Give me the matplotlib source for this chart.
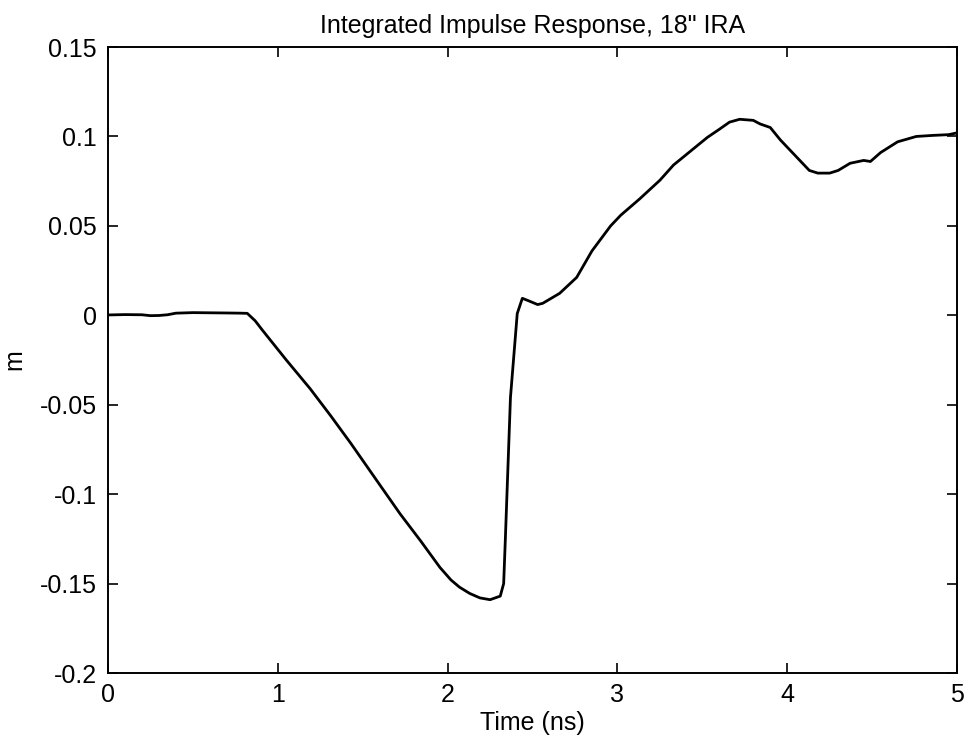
import matplotlib
matplotlib.use("Agg")
import matplotlib.pyplot as plt

# Time (ns) and integrated impulse response (m)
time_ns = [0.00, 0.10, 0.20, 0.25, 0.30, 0.35, 0.40, 0.50, 0.60, 0.70, 0.78, 0.82,
           0.866, 0.91, 1.05, 1.19, 1.31, 1.43, 1.58, 1.72, 1.84, 1.955, 2.02, 2.07,
           2.13, 2.19, 2.25, 2.31, 2.33, 2.34, 2.37, 2.41, 2.44, 2.48, 2.53, 2.56,
           2.66, 2.76, 2.85, 2.96, 3.02, 3.13, 3.25, 3.33, 3.53, 3.60, 3.66, 3.72,
           3.80, 3.84, 3.90, 3.96, 4.06, 4.13, 4.18, 4.25, 4.30, 4.37, 4.45, 4.49,
           4.55, 4.65, 4.76, 4.86, 4.95, 5.00]
response_m = [0.0002, 0.0004, 0.0003, -0.0002, -0.0001, 0.0003, 0.0012, 0.0015, 0.0014, 0.0013, 0.0012, 0.0011,
              -0.003, -0.0084, -0.025, -0.041, -0.056, -0.0716, -0.092, -0.111, -0.126, -0.141, -0.148, -0.152,
              -0.1555, -0.158, -0.159, -0.157, -0.150, -0.125, -0.046, 0.001, 0.0095, 0.0080, 0.0060, 0.0067,
              0.0123, 0.0212, 0.036, 0.050, 0.056, 0.065, 0.0755, 0.084, 0.0995, 0.104, 0.108, 0.1096,
              0.109, 0.107, 0.105, 0.098, 0.088, 0.081, 0.0795, 0.0795, 0.081, 0.085, 0.0866, 0.086,
              0.091, 0.097, 0.100, 0.1006, 0.101, 0.102]

x_ticks = [0, 1, 2, 3, 4, 5]
y_ticks = [-0.2, -0.15, -0.1, -0.05, 0, 0.05, 0.1, 0.15]
y_tick_labels = ["-0.2", "-0.15", "-0.1", "-0.05", "0", "0.05", "0.1", "0.15"]

plt.rcParams['font.family'] = ['Liberation Sans', 'DejaVu Sans']

fig = plt.figure(figsize=(9.67, 7.44), dpi=100)
ax = fig.add_axes([0.1117, 0.0954, 0.8780, 0.8414])
ax.plot(time_ns, response_m, color='black', linewidth=2.0)
ax.set_xlim(0, 5)
ax.set_ylim(-0.2, 0.15)
ax.set_xticks(x_ticks)
ax.set_xticklabels([str(t) for t in x_ticks])
ax.set_yticks(y_ticks)
ax.set_yticklabels(y_tick_labels)
ax.tick_params(direction='in', top=True, right=True, length=7, width=1.2, labelsize=18)
ax.tick_params(axis='x', pad=7)
ax.tick_params(axis='y', pad=8)
for s in ax.spines.values():
    s.set_linewidth(1.4)
ax.set_title('Integrated Impulse Response, 18" IRA', fontsize=18, pad=10)
ax.set_xlabel('Time (ns)', fontsize=18, labelpad=3)
ax.set_ylabel('m', fontsize=18, labelpad=10)
fig.savefig('out.png', dpi=100)
